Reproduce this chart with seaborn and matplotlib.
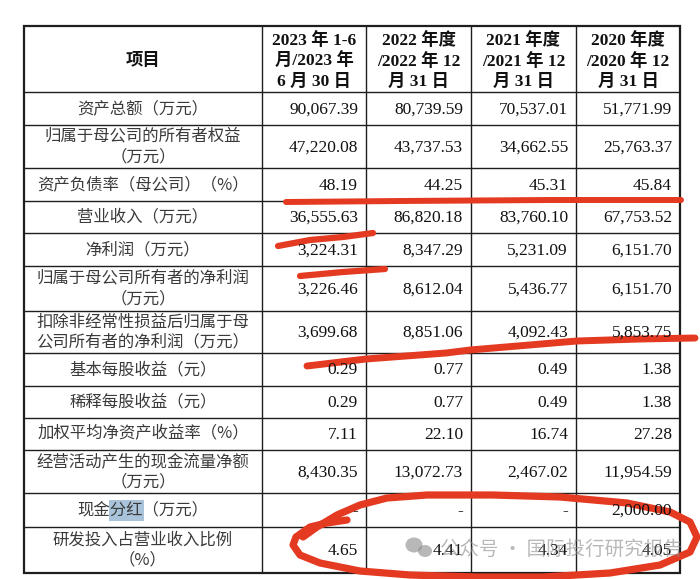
import matplotlib
matplotlib.use("Agg")
import matplotlib.pyplot as plt
import matplotlib.patches as mpatches
import seaborn as sns

# table content
items = [
    "资产总额（万元）",
    "归属于母公司的所有者权益\n（万元）",
    "资产负债率（母公司）（%）",
    "营业收入（万元）",
    "净利润（万元）",
    "归属于母公司所有者的净利润\n（万元）",
    "扣除非经常性损益后归属于母\n公司所有者的净利润（万元）",
    "基本每股收益（元）",
    "稀释每股收益（元）",
    "加权平均净资产收益率（%）",
    "经营活动产生的现金流量净额\n（万元）",
    "现金分红（万元）",
    "研发投入占营业收入比例\n（%）",
]
headers = [
    "项目",
    "2023 年 1-6\n月/2023 年\n6 月 30 日",
    "2022 年度\n/2022 年 12\n月 31 日",
    "2021 年度\n/2021 年 12\n月 31 日",
    "2020 年度\n/2020 年 12\n月 31 日",
]
h1_2023 = [90067.39, 47220.08, 48.19, 36555.63, 3224.31, 3226.46, 3699.68,
           0.29, 0.29, 7.11, 8430.35, None, 4.65]
y2022 = [80739.59, 43737.53, 44.25, 86820.18, 8347.29, 8612.04, 8851.06,
         0.77, 0.77, 22.10, 13072.73, None, 4.41]
y2021 = [70537.01, 34662.55, 45.31, 83760.10, 5231.09, 5436.77, 4092.43,
         0.49, 0.49, 16.74, 2467.02, None, 4.34]
y2020 = [51771.99, 25763.37, 45.84, 67753.52, 6151.70, 6151.70, 5853.75,
         1.38, 1.38, 27.28, 11954.59, 2000.00, 4.05]
periods = [h1_2023, y2022, y2021, y2020]

# layout (pixels)
col_edges = [24, 262, 366, 471, 576, 680]
row_edges = [26, 92, 125, 168, 201, 233, 266, 311, 353, 386, 418, 450, 493, 527, 573]

sns.set_theme(style="white")
plt.rcParams['font.family'] = ['Noto Sans CJK SC', 'DejaVu Sans']

fig = plt.figure(figsize=(7, 5.79), dpi=100)
ax = fig.add_axes([0, 0, 1, 1])

line_c = '#1e1e1e'
for y in row_edges[1:-1]:
    ax.plot([col_edges[0], col_edges[-1]], [y, y], color=line_c, lw=1.0)
for x in col_edges[1:-1]:
    ax.plot([x, x], [row_edges[0], row_edges[-1]], color=line_c, lw=1.0)
ax.add_patch(mpatches.Rectangle((col_edges[0], row_edges[0]),
                                col_edges[-1] - col_edges[0],
                                row_edges[-1] - row_edges[0],
                                fill=False, ec=line_c, lw=1.6))

serif_cjk = ['Liberation Serif', 'Noto Sans CJK SC']

# header
hy = (row_edges[0] + row_edges[1]) / 2 + 2
for j, h in enumerate(headers):
    cx = (col_edges[j] + col_edges[j + 1]) / 2
    ax.text(cx, hy, h, ha='center', va='center', multialignment='center',
            family=serif_cjk, fontweight='bold', fontsize=12.5,
            color='#111111', linespacing=1.3)

# highlight behind 分红
ax.add_patch(mpatches.Rectangle((109, 500), 35, 21, color='#a9c4da', lw=0))

# body
for i, name in enumerate(items):
    cy = (row_edges[i + 1] + row_edges[i + 2]) / 2
    cx = (col_edges[0] + col_edges[1]) / 2
    ax.text(cx, cy, name, ha='center', va='center', multialignment='center',
            family=['Noto Sans CJK SC'], fontsize=11.8, color='#3a3a3a',
            linespacing=1.25)
    for j, vals in enumerate(periods):
        v = vals[i]
        s = '-' if v is None else f"{v:,.2f}"
        ax.text(col_edges[j + 2] - 8, cy + 1, s, ha='right', va='center',
                family=['Liberation Serif'], fontsize=12.5, color='#111111')

# red hand-drawn marks
red = '#e53a22'
strokes = [
    ([286, 400, 550, 681], [202, 201, 200, 200], 4.3),
    ([278, 310, 343, 373], [246, 240, 237, 233], 4.5),
    ([300, 343, 385], [276, 272, 269], 4.5),
    ([307, 366, 446, 470, 577, 640, 695], [366, 359, 353, 350, 341, 339, 338], 5.0),
    ([347, 327, 310, 296, 293, 300, 320, 360, 410, 477, 543, 610, 660, 690, 697,
      690, 670, 627, 560, 493, 427, 387, 360, 337, 317, 303],
     [520, 523, 527, 537, 545, 555, 563, 571, 575, 577, 577, 573, 565, 552, 537,
      522, 512, 503, 497, 495, 495, 498, 505, 515, 527, 537], 5.2),
]
for xs, ys, w in strokes:
    sns.lineplot(x=xs, y=ys, sort=False, estimator=None, color=red, lw=w,
                 ax=ax, solid_capstyle='round', solid_joinstyle='round')

# watermark
wm = '#8a8a8a'
ax.add_patch(mpatches.Ellipse((414, 545), 17, 15, color=wm, alpha=0.6, lw=0))
ax.add_patch(mpatches.Ellipse((425, 551), 14, 12, color=wm, alpha=0.6, lw=0))
ax.text(440, 549, "公众号 · 国际投行研究报告", ha='left', va='center',
        family=['Noto Sans CJK SC'], fontsize=14, color=wm, alpha=0.6)

ax.set_xlim(0, 700)
ax.set_ylim(579, 0)
ax.axis('off')

fig.savefig('out.png', dpi=100, facecolor='white')
